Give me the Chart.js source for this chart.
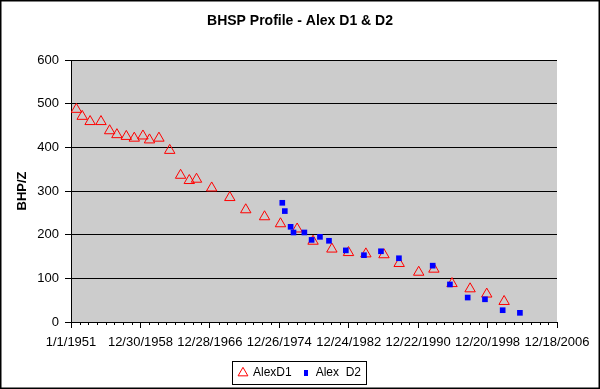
<!DOCTYPE html>
<html>
<head>
<meta charset="utf-8">
<script src="https://cdn.jsdelivr.net/npm/chart.js@4.4.0/dist/chart.umd.min.js"></script>
<style>
html, body { margin: 0; padding: 0; background: #fff; }
</style>
</head>
<body>
<canvas id="chart" width="600" height="389"></canvas>
<script>
// tick labels of the date axis (8 year steps = 2920 days)
var tickLabels = ['1/1/1951', '12/30/1958', '12/28/1966', '12/26/1974', '12/24/1982', '12/22/1990', '12/20/1998', '12/18/2006'];
var tickStepDays = 2920;

// AlexD1
var d1Dates = ['1951-08-15', '1952-04-15', '1953-03-15', '1954-06-15', '1955-06-15', '1956-04-15', '1957-05-15',
               '1958-04-15', '1959-04-15', '1960-01-15', '1961-02-15', '1962-05-15', '1963-08-15', '1964-08-15',
               '1965-06-15', '1967-03-15', '1969-04-15', '1971-02-15', '1973-04-15', '1975-02-15', '1977-01-15',
               '1978-11-15', '1981-01-15', '1982-12-15', '1984-12-15', '1987-01-15', '1988-10-15', '1991-01-15',
               '1992-10-15', '1994-11-15', '1996-12-15', '1998-11-15', '2000-11-15'];
var d1Values = [487, 471, 459, 459, 438, 429, 425,
                421, 426, 417, 421, 393, 336, 324,
                327, 307, 285, 257, 241, 225, 213,
                185, 167, 159, 156, 154, 134, 114,
                121, 88, 76, 64, 47];

// Alex D2
var d2Dates = ['1975-05-01', '1975-08-15', '1976-04-15', '1976-08-15', '1977-11-15', '1978-09-15', '1979-09-01',
               '1980-09-15', '1982-08-25', '1984-09-25', '1986-09-10', '1988-10-05', '1992-08-25', '1994-08-20',
               '1996-09-05', '1998-09-01', '2000-09-15', '2002-09-10'];
var d2Values = [273, 254, 218, 205, 205, 188, 195,
                186, 164, 153, 162, 146, 129, 86,
                56, 52, 27, 21];

function daysSince1951(s) {
    var p = s.split('-');
    return (Date.UTC(+p[0], +p[1] - 1, +p[2]) - Date.UTC(1951, 0, 1)) / 86400000;
}

function toPoints(dates, values) {
    return dates.map(function(d, i) { return {x: daysSince1951(d), y: values[i]}; });
}

var FONT = "'Liberation Sans', Arial, sans-serif";

// small blue mark for the legend
var d2LegendMark = document.createElement('canvas');
d2LegendMark.width = 4;
d2LegendMark.height = 6;
var mctx = d2LegendMark.getContext('2d');
mctx.fillStyle = '#0000ff';
mctx.fillRect(0, 0, 4, 6);

var framePlugin = {
    id: 'frame',
    beforeDraw: function(chart) {
        var ctx = chart.ctx, a = chart.chartArea;
        ctx.save();
        ctx.fillStyle = '#ffffff';
        ctx.fillRect(0, 0, chart.width, chart.height);
        ctx.fillStyle = '#cccccc';
        ctx.fillRect(a.left, a.top, a.right - a.left, a.bottom - a.top);
        ctx.restore();
    },
    afterDraw: function(chart) {
        var ctx = chart.ctx;
        var xs = chart.scales.x;
        ctx.save();
        // minor ticks, one per year
        ctx.strokeStyle = '#000';
        ctx.lineWidth = 1;
        ctx.beginPath();
        for (var k = 1; k < 56; k++) {
            if (k % 8 === 0) continue;
            var px = Math.round(xs.getPixelForValue(k * 365)) + 0.5;
            ctx.moveTo(px, xs.top);
            ctx.lineTo(px, xs.top + 3);
        }
        ctx.stroke();
        // legend box
        var hb = chart.legend.legendHitBoxes;
        if (hb && hb.length) {
            var last = hb[hb.length - 1];
            var l = Math.round(hb[0].left - 7) + 0.5;
            var r = Math.round(last.left + last.width + 5) + 0.5;
            var t = Math.round(hb[0].top - 6) + 0.5;
            var b = Math.round(hb[0].top + hb[0].height + 5) + 0.5;
            ctx.strokeStyle = '#000';
            ctx.lineWidth = 1;
            ctx.strokeRect(l, t, r - l, b - t);
        }
        // outer border
        ctx.lineWidth = 1.5;
        ctx.strokeRect(0.75, 0.75, chart.width - 1.5, chart.height - 1.5);
        ctx.restore();
    }
};

new Chart(document.getElementById('chart'), {
    type: 'scatter',
    data: {
        datasets: [
            {
                label: 'AlexD1',
                data: toPoints(d1Dates, d1Values),
                pointStyle: 'triangle',
                pointRadius: 6,
                pointHoverRadius: 6,
                borderColor: '#ff0000',
                backgroundColor: 'rgba(0,0,0,0)',
                borderWidth: 1,
                order: 1
            },
            {
                label: 'Alex  D2',
                data: toPoints(d2Dates, d2Values),
                pointStyle: 'rect',
                pointRadius: 4,
                pointHoverRadius: 4,
                borderColor: '#0000ff',
                backgroundColor: '#0000ff',
                borderWidth: 0,
                order: 0
            }
        ]
    },
    options: {
        responsive: false,
        animation: false,
        devicePixelRatio: 1,
        layout: { padding: 0 },
        plugins: {
            tooltip: { enabled: false },
            title: {
                display: true,
                text: 'BHSP Profile - Alex D1 & D2',
                color: '#000',
                font: { family: FONT, size: 14, weight: 'bold' },
                padding: { top: 13, bottom: 30.2 }
            },
            legend: {
                position: 'bottom',
                labels: {
                    color: '#000',
                    font: { family: FONT, size: 12 },
                    usePointStyle: true,
                    boxWidth: 8,
                    boxHeight: 8,
                    padding: 10,
                    sort: function(a, b) { return a.datasetIndex - b.datasetIndex; },
                    generateLabels: function(chart) {
                        var items = Chart.defaults.plugins.legend.labels.generateLabels(chart);
                        items.forEach(function(it) {
                            if (it.datasetIndex === 1) it.pointStyle = d2LegendMark;
                        });
                        return items;
                    }
                }
            }
        },
        scales: {
            x: {
                type: 'linear',
                position: 'bottom',
                min: 0,
                max: tickStepDays * (tickLabels.length - 1),
                afterBuildTicks: function(axis) {
                    axis.ticks = tickLabels.map(function(l, i) { return {value: i * tickStepDays}; });
                },
                afterFit: function(axis) { axis.height = 35; },
                border: { color: '#000', width: 1 },
                grid: { drawOnChartArea: false, drawTicks: true, tickLength: 6, color: '#000' },
                ticks: {
                    autoSkip: false,
                    maxRotation: 0,
                    color: '#000',
                    padding: 7,
                    font: { family: FONT, size: 13 },
                    callback: function(v, i) { return tickLabels[i]; }
                }
            },
            y: {
                min: 0,
                max: 600,
                afterFit: function(axis) { axis.width = 71; },
                border: { color: '#000', width: 1 },
                grid: { color: '#000', lineWidth: 1, tickLength: 6 },
                ticks: {
                    stepSize: 100,
                    color: '#000',
                    padding: 6,
                    font: { family: FONT, size: 13 }
                },
                title: {
                    display: true,
                    text: 'BHP/Z',
                    color: '#000',
                    font: { family: FONT, size: 13, weight: 'bold' },
                    padding: { top: 15, bottom: 0 }
                }
            },
            // empty right-hand space so the plot ends where the original does
            yRight: {
                position: 'right',
                min: 0,
                max: 600,
                afterFit: function(axis) { axis.width = 43; },
                border: { display: false },
                grid: { display: false, drawTicks: false },
                ticks: { display: false }
            }
        }
    },
    plugins: [framePlugin]
});
</script>
</body>
</html>
